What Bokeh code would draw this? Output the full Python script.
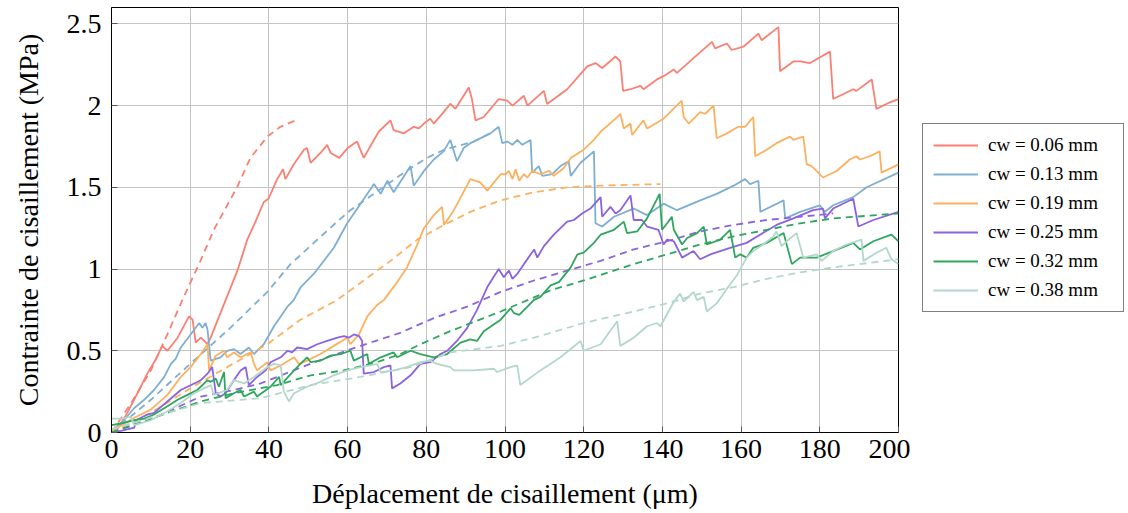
from bokeh.plotting import figure
from bokeh.layouts import row
from bokeh.models import Legend, LegendItem, FixedTicker, CustomJSTickFormatter, Range1d
from bokeh.embed import file_html
from bokeh.resources import INLINE

# ---------------- data ----------------
labels = ["cw = 0.06 mm", "cw = 0.13 mm", "cw = 0.19 mm", "cw = 0.25 mm", "cw = 0.32 mm", "cw = 0.38 mm"]
colors = ["#fb7f72", "#7eafd3", "#fdb05e", "#8b62e0", "#2ea65e", "#b2d8c9"]

x06 = [0, 1.5, 4, 6.6, 9.1, 11.3, 12.9, 14.2, 16.8, 19.7, 20.6, 21.4, 22.7, 24.4, 25.2, 29, 32, 34.5, 36.6, 38.7, 39.9,
       42.1, 43.6, 44.2, 46.3, 48.9, 49.7, 50.6, 53.1, 54.8, 55.7, 57.9, 60, 62.4, 64.1, 67.9, 70.9, 71.7, 74.3, 76.8,
       78.1, 79.4, 81, 81.9, 84.4, 86.1, 87.4, 90.8, 91.6, 92.5, 94.6, 98.4, 100.6, 101.9, 104.8, 105.7, 109.9, 110.7,
       115.8, 120.9, 123, 124.7, 128.1, 129.3, 130, 131.9, 134.4, 135.2, 138.6, 140.3, 142.9, 143.7, 147.9, 152.6,
       153.4, 156.4, 157.6, 160.6, 164.4, 165.2, 169.5, 169.9, 173.3, 175, 177.5, 182.6, 183.4, 188.5, 189.3, 193.2,
       194.4, 197.8, 200]
y06 = [0, 0.02, 0.12, 0.24, 0.36, 0.45, 0.53, 0.50, 0.58, 0.71, 0.69, 0.55, 0.58, 0.54, 0.58, 0.81, 0.99, 1.18, 1.29,
       1.41, 1.43, 1.55, 1.61, 1.55, 1.64, 1.73, 1.74, 1.65, 1.71, 1.76, 1.71, 1.68, 1.74, 1.78, 1.68, 1.84, 1.91, 1.85,
       1.83, 1.87, 1.86, 1.89, 1.92, 1.89, 1.96, 2.01, 1.98, 2.11, 2.04, 1.91, 1.93, 2.04, 2.03, 2.0, 2.06, 2.0, 2.09,
       2.01, 2.1, 2.24, 2.26, 2.23, 2.3, 2.27, 2.09, 2.1, 2.12, 2.10, 2.16, 2.18, 2.22, 2.2, 2.29, 2.39, 2.35, 2.38,
       2.34, 2.36, 2.44, 2.40, 2.48, 2.21, 2.27, 2.27, 2.26, 2.33, 2.04, 2.1, 2.09, 2.16, 1.98, 2.02, 2.04]
xf06 = [0, 5, 10, 14.2, 18, 22.6, 26, 31.9, 35.3, 39.6, 42.9, 46.8]
yf06 = [0, 0.18, 0.38, 0.6, 0.81, 1.05, 1.24, 1.50, 1.68, 1.81, 1.87, 1.91]

x13 = [0, 2.4, 5.8, 8.3, 10.8, 13.4, 15.1, 16.3, 17.6, 20.1, 22.3, 23.1, 23.9, 24.4, 25.2, 27.7, 29.4, 31.1, 32.8, 34.9,
       36.2, 38.7, 41.3, 44.7, 46.3, 48.1, 51.4, 56.5, 59.9, 63.3, 66.7, 68.4, 70.1, 71.7, 76, 76.8, 79.4, 81.9, 84.4,
       86.1, 87.8, 89.5, 91.2, 94.6, 96.3, 98.4, 99.3, 100.6, 101.9, 103.1, 104.4, 106.5, 106.9, 108.6, 109.5, 112,
       114.1, 116.2, 116.7, 119.2, 122.6, 123, 124.7, 127.7, 132.7, 136.1, 140.3, 143.7, 149.6, 153.8, 158.1, 161,
       162.3, 164.4, 164.9, 170.8, 171.2, 175, 180, 181.3, 183.4, 188.5, 191.9, 200]
y13 = [0.01, 0.055, 0.15, 0.2, 0.26, 0.34, 0.42, 0.45, 0.52, 0.6, 0.67, 0.64, 0.67, 0.63, 0.44, 0.46, 0.50, 0.51, 0.48,
       0.52, 0.48, 0.54, 0.65, 0.77, 0.81, 0.89, 0.97, 1.13, 1.28, 1.40, 1.52, 1.46, 1.54, 1.47, 1.63, 1.51, 1.6, 1.67,
       1.72, 1.79, 1.66, 1.74, 1.77, 1.81, 1.83, 1.87, 1.77, 1.78, 1.76, 1.79, 1.76, 1.79, 1.59, 1.63, 1.57, 1.58, 1.63,
       1.66, 1.57, 1.65, 1.72, 1.28, 1.26, 1.32, 1.37, 1.33, 1.40, 1.36, 1.42, 1.46, 1.51, 1.55, 1.52, 1.54, 1.35, 1.42,
       1.31, 1.35, 1.39, 1.35, 1.39, 1.44, 1.50, 1.59]
xf13 = [0, 10, 20, 30.2, 39.6, 45.5, 51.4, 56.9, 60.7, 66.7, 74.3, 80.2, 84.5, 92.1, 97]
yf13 = [0, 0.2, 0.42, 0.64, 0.86, 1.03, 1.16, 1.28, 1.36, 1.46, 1.59, 1.68, 1.73, 1.78, 1.84]

x19 = [0, 5.8, 10, 14.2, 17.6, 20.1, 22.7, 24.4, 24.8, 26.5, 28.6, 29.4, 31.1, 32.8, 35.4, 36.2, 37, 39.6, 40.4, 43,
       46.4, 47.6, 49.7, 53.1, 56.5, 59.9, 60.7, 62.9, 65, 67.5, 69.2, 72.6, 75.1, 77.7, 79.4, 81.9, 84, 84.5, 87, 91.2,
       93.7, 95.5, 98.9, 100.2, 101, 101.9, 102.7, 103.6, 104.8, 105.7, 106.9, 109, 111.2, 112.4, 115, 116.7, 120,
       122.6, 124.3, 128.1, 129.3, 130.2, 131.9, 132.3, 135.2, 136.1, 140.3, 142.8, 144.9, 145.4, 146.7, 149.6, 150.9,
       153, 153.8, 156.4, 159.3, 161, 163.1, 163.6, 166.5, 169, 172.4, 173.3, 175.8, 176.7, 177.9, 178.8, 180.8, 184.3,
       187.6, 189.3, 190.2, 192.7, 195.2, 195.7, 200]
y19 = [0.01, 0.09, 0.14, 0.23, 0.34, 0.4, 0.48, 0.54, 0.38, 0.47, 0.5, 0.46, 0.49, 0.46, 0.49, 0.42, 0.38, 0.43, 0.38,
       0.41, 0.46, 0.42, 0.44, 0.48, 0.53, 0.58, 0.54, 0.6, 0.71, 0.78, 0.81, 0.92, 1.01, 1.15, 1.25, 1.33, 1.38, 1.27,
       1.36, 1.55, 1.53, 1.48, 1.58, 1.58, 1.60, 1.55, 1.61, 1.54, 1.58, 1.56, 1.60, 1.58, 1.60, 1.57, 1.62, 1.68, 1.73,
       1.79, 1.84, 1.92, 1.95, 1.86, 1.89, 1.82, 1.91, 1.86, 1.92, 1.98, 2.03, 1.93, 1.89, 1.96, 1.95, 2.0, 1.80, 1.83,
       1.87, 1.87, 1.93, 1.69, 1.73, 1.77, 1.81, 1.79, 1.81, 1.64, 1.63, 1.61, 1.56, 1.60, 1.67, 1.69, 1.67, 1.69, 1.72,
       1.59, 1.64]
xf19 = [0, 10, 20, 29.4, 39.6, 48, 57.3, 64.1, 70.9, 77.7, 84.5, 91.2, 98.9, 107.4, 115.8, 124.3, 139.5]
yf19 = [0, 0.12, 0.27, 0.4, 0.54, 0.69, 0.81, 0.93, 1.05, 1.18, 1.27, 1.35, 1.42, 1.47, 1.50, 1.51, 1.52]

x25 = [0, 2.4, 5.8, 6.2, 9.1, 10.8, 14.2, 17.6, 19.3, 21, 22.7, 24.4, 25.6, 26.5, 27.7, 29, 31.1, 32.8, 34.1, 34.9, 37,
       39.2, 40.4, 43, 44.7, 45.9, 47.2, 49.7, 52.3, 54.8, 57.4, 59.1, 60.3, 61.6, 62.9, 63.7, 64.1, 66.7, 69.2, 70.9,
       71.3, 73.4, 76, 78.5, 81, 83.6, 85.3, 87.8, 90.4, 92.9, 95.5, 98.4, 99.7, 101, 101.9, 103.1, 104.8, 107.4, 108.2,
       109.9, 112.4, 114.5, 115.8, 117.5, 119.6, 121.7, 124.3, 124.7, 126.8, 128.1, 129.3, 131.9, 132.7, 134.8, 136.1,
       139, 140.3, 141.2, 142.9, 145, 147.9, 149.6, 152.2, 157.2, 161.4, 164.8, 169, 173.3, 178.3, 180.8, 181.3, 183.4,
       188.5, 189.8, 193.6, 200]
y25 = [0, 0.01, 0.03, 0.075, 0.11, 0.12, 0.19, 0.26, 0.28, 0.30, 0.32, 0.36, 0.40, 0.24, 0.22, 0.24, 0.32, 0.38, 0.40,
       0.29, 0.34, 0.38, 0.43, 0.46, 0.50, 0.49, 0.52, 0.51, 0.54, 0.56, 0.58, 0.59, 0.58, 0.60, 0.59, 0.56, 0.36, 0.37,
       0.40, 0.41, 0.27, 0.30, 0.35, 0.42, 0.43, 0.48, 0.50, 0.56, 0.64, 0.75, 0.89, 1.0, 0.95, 0.99, 0.94, 0.97, 1.03,
       1.12, 1.07, 1.14, 1.21, 1.26, 1.29, 1.30, 1.34, 1.37, 1.44, 1.32, 1.38, 1.34, 1.36, 1.45, 1.30, 1.30, 1.26, 1.24,
       1.15, 1.18, 1.17, 1.07, 1.11, 1.06, 1.09, 1.13, 1.16, 1.21, 1.27, 1.31, 1.36, 1.37, 1.31, 1.37, 1.43, 1.26, 1.30,
       1.35]
xf25 = [0, 10, 22.7, 31.1, 37.9, 46.3, 54.8, 63.3, 73.4, 81.9, 90.4, 98.9, 107.4, 115.8, 124.3, 132.7, 141.2, 149.6,
        158.1, 166.5, 175, 183.4]
yf25 = [0, 0.08, 0.22, 0.26, 0.30, 0.38, 0.46, 0.53, 0.61, 0.70, 0.77, 0.86, 0.93, 0.99, 1.05, 1.12, 1.17, 1.23, 1.27,
        1.30, 1.32, 1.34]

x32 = [0, 2.4, 5.8, 8.3, 10.8, 14.2, 16.8, 19.3, 21.8, 24.4, 25.2, 26.5, 27.3, 28.6, 29, 31.1, 32.8, 33.7, 36.2, 37,
       40.4, 42.6, 43, 46.4, 48, 49.7, 50.6, 53.1, 55.7, 58.2, 60.7, 61.6, 65, 65.4, 68.4, 71.7, 72.6, 76, 78.5, 81.9,
       85.3, 88.7, 91.2, 92.9, 94.6, 98.9, 101.4, 102.3, 103.6, 105.7, 107.3, 109, 111.6, 113.7, 116.7, 118.4, 120,
       122.6, 124.3, 127.7, 130.2, 131, 133.6, 136.1, 139.3, 139.9, 141.2, 142.4, 142.9, 145, 146.3, 148.8, 150.5,
       151.3, 154.7, 157.2, 158.5, 159.8, 161.4, 163.1, 166.5, 170.8, 172.9, 175, 179.2, 183.4, 188.5, 190.2, 193.6,
       198.2, 200]
y32 = [0.045, 0.055, 0.075, 0.085, 0.11, 0.16, 0.2, 0.23, 0.26, 0.32, 0.31, 0.33, 0.28, 0.37, 0.21, 0.24, 0.26, 0.22,
       0.25, 0.22, 0.28, 0.34, 0.29, 0.38, 0.42, 0.46, 0.43, 0.44, 0.47, 0.48, 0.50, 0.44, 0.48, 0.42, 0.46, 0.49, 0.46,
       0.50, 0.48, 0.46, 0.48, 0.55, 0.57, 0.56, 0.62, 0.69, 0.76, 0.73, 0.72, 0.77, 0.81, 0.83, 0.90, 0.92, 1.01, 1.09,
       1.10, 1.16, 1.21, 1.24, 1.29, 1.22, 1.23, 1.31, 1.46, 1.24, 1.28, 1.32, 1.24, 1.15, 1.19, 1.22, 1.26, 1.15, 1.18,
       1.24, 1.07, 1.09, 1.07, 1.13, 1.16, 1.22, 1.03, 1.07, 1.07, 1.11, 1.16, 1.12, 1.17, 1.21, 1.17]
xf32 = [0, 14.2, 22.7, 31.1, 42.1, 50.6, 59, 67.5, 73.4, 78.5, 86.1, 94.6, 98.9, 111.6, 120, 132.7, 141.2, 149.6, 158.1,
        166.5, 175, 183.4, 200]
yf32 = [0, 0.12, 0.19, 0.24, 0.29, 0.35, 0.38, 0.43, 0.48, 0.54, 0.62, 0.70, 0.74, 0.87, 0.93, 1.03, 1.09, 1.15, 1.20,
        1.24, 1.28, 1.31, 1.34]

x38 = [0, 2.4, 4.9, 5.8, 10, 14.2, 17.6, 21, 23.5, 25.2, 26, 29.4, 31.1, 33.7, 36.2, 39.6, 41.3, 43, 43.8, 45.1, 46.4,
       49.7, 53.1, 56.5, 59.9, 63.3, 65.8, 67.5, 68.4, 71.7, 75.1, 78.5, 81, 82.7, 86.1, 87, 92, 97.2, 98, 101.4, 103.1,
       103.9, 109, 114.1, 119.2, 120, 124.3, 128.5, 129.3, 132.7, 136.1, 138.6, 139.5, 142.9, 144.5, 145.4, 147.9,
       148.8, 150.5, 151.3, 153.8, 156.4, 158.9, 161.4, 163.1, 165.6, 168.2, 169, 170.3, 171.6, 174.1, 175.8, 179.2,
       180.5, 183.4, 186.8, 190.6, 191.1, 194.4, 196.9, 198.2, 200]
y38 = [0.085, 0.085, 0.095, 0.045, 0.075, 0.13, 0.18, 0.24, 0.27, 0.29, 0.23, 0.26, 0.32, 0.30, 0.34, 0.40, 0.42, 0.41,
       0.25, 0.19, 0.24, 0.28, 0.31, 0.35, 0.38, 0.40, 0.41, 0.42, 0.37, 0.38, 0.40, 0.43, 0.44, 0.42, 0.40, 0.38, 0.38,
       0.39, 0.37, 0.40, 0.41, 0.29, 0.38, 0.46, 0.56, 0.50, 0.54, 0.68, 0.53, 0.58, 0.65, 0.67, 0.65, 0.80, 0.85, 0.80,
       0.86, 0.81, 0.83, 0.74, 0.79, 0.88, 0.96, 1.07, 1.11, 1.15, 1.20, 1.23, 1.14, 1.17, 1.22, 1.07, 1.09, 1.05, 1.11,
       1.15, 1.18, 1.05, 1.10, 1.13, 1.06, 1.03]
xf38 = [0, 22.7, 37.9, 50.6, 63.3, 76, 86.1, 98.9, 107.4, 120, 132.7, 141.2, 149.6, 158.1, 166.5, 175, 183.4, 200]
yf38 = [0.02, 0.18, 0.21, 0.29, 0.34, 0.40, 0.49, 0.53, 0.58, 0.67, 0.74, 0.79, 0.85, 0.89, 0.94, 0.98, 1.01, 1.06]

xticks = [0, 20, 40, 60, 80, 100, 120, 140, 160, 180, 200]
yticks = [0, 0.5, 1, 1.5, 2, 2.5]

solids = [(x06, y06), (x13, y13), (x19, y19), (x25, y25), (x32, y32), (x38, y38)]
fits = [(xf06, yf06), (xf13, yf13), (xf19, yf19), (xf25, yf25), (xf32, yf32), (xf38, yf38)]

# ---------------- main figure ----------------
FONT = "Liberation Serif"
H = 511
p = figure(width=910, height=H, output_backend="svg", toolbar_location=None,
           x_range=Range1d(0, 200), y_range=Range1d(0, 2.6),
           min_border_left=111, min_border_top=7, min_border_bottom=70, min_border_right=12,
           background_fill_color="white", border_fill_color="white")
p.outline_line_color = "black"
p.outline_line_width = 1

for ax in (p.xaxis[0], p.yaxis[0]):
    ax.axis_line_color = "black"
    ax.major_tick_in = 6
    ax.major_tick_out = 0
    ax.minor_tick_line_color = None
    ax.major_tick_line_color = "#555555"
    ax.major_label_text_font = FONT
    ax.major_label_text_font_size = "28px"
    ax.major_label_text_color = "black"
    ax.axis_label_text_font = FONT
    ax.axis_label_text_font_size = "28px"
    ax.axis_label_text_font_style = "normal"
    ax.axis_label_text_color = "black"

p.xaxis.ticker = FixedTicker(ticks=xticks)
p.yaxis.ticker = FixedTicker(ticks=yticks)
p.yaxis.formatter = CustomJSTickFormatter(code="return String(tick);")
p.xaxis.major_label_standoff = 7
p.yaxis.major_label_standoff = 10
p.xaxis.axis_label = "Déplacement de cisaillement (μm)"
p.yaxis.axis_label = "Contrainte de cisaillement (MPa)"
p.xaxis.axis_label_standoff = 17
p.yaxis.axis_label_standoff = 20

p.xgrid.ticker = FixedTicker(ticks=xticks)
p.ygrid.ticker = FixedTicker(ticks=yticks)
for g in (p.xgrid[0], p.ygrid[0]):
    g.grid_line_color = "#c4c4c4"
    g.grid_line_width = 1

for (xs, ys), (xf, yf), c in zip(solids, fits, colors):
    p.line(xf, yf, line_color=c, line_width=1.8, line_dash="7 5")
    p.line(xs, ys, line_color=c, line_width=1.8)

# ---------------- legend panel (series drawn out of view, only the legend shows) ----------------
q = figure(width=216, height=H, output_backend="svg", toolbar_location=None,
           x_range=Range1d(-20, -10), y_range=Range1d(-20, -10),
           x_axis_location=None, y_axis_location=None,
           min_border_left=0, min_border_top=7, min_border_bottom=0, min_border_right=0,
           background_fill_color="white", border_fill_color="white")
q.outline_line_color = None
q.xgrid.visible = False
q.ygrid.visible = False
items = []
for (xs, ys), c, lab in zip(solids, colors, labels):
    r = q.line(xs, ys, line_color=c, line_width=2.2)
    items.append(LegendItem(label=lab, renderers=[r]))

legend = Legend(items=items, location=(12, 120),
                label_text_font=FONT, label_text_font_size="19px", label_text_color="black",
                glyph_width=45, glyph_height=22, label_height=22, label_width=125,
                label_standoff=10, spacing=7, padding=10, margin=0,
                border_line_color="black", border_line_width=1, background_fill_alpha=1)
q.add_layout(legend, "center")

open("out.html", "w").write(file_html(row(p, q), INLINE))
